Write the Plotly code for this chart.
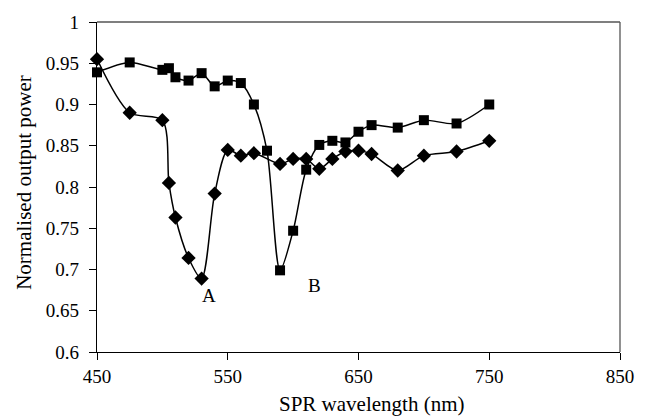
import plotly.graph_objects as go

# Series A (diamonds)
wl_a = [450, 475, 500, 505, 510, 520, 530, 540, 550, 560, 570, 590, 600, 610, 620, 630, 640, 650, 660, 680, 700, 725, 750]
pow_a = [0.955, 0.890, 0.881, 0.805, 0.763, 0.714, 0.689, 0.792, 0.845, 0.838, 0.841, 0.828, 0.834, 0.834, 0.822, 0.834, 0.843, 0.844, 0.840, 0.820, 0.838, 0.843, 0.856]

# Series B (squares)
wl_b = [450, 475, 500, 505, 510, 520, 530, 540, 550, 560, 570, 580, 590, 600, 610, 620, 630, 640, 650, 660, 680, 700, 725, 750]
pow_b = [0.939, 0.951, 0.942, 0.944, 0.933, 0.929, 0.938, 0.922, 0.929, 0.926, 0.900, 0.844, 0.699, 0.747, 0.821, 0.851, 0.856, 0.854, 0.867, 0.875, 0.872, 0.881, 0.877, 0.900]

x_ticks = [450, 550, 650, 750, 850]
y_ticks = [0.6, 0.65, 0.7, 0.75, 0.8, 0.85, 0.9, 0.95, 1.0]
y_tick_text = ["0.6", "0.65", "0.7", "0.75", "0.8", "0.85", "0.9", "0.95", "1"]

curve_labels = [("A", 536, 0.668), ("B", 616, 0.681)]
x_title = "SPR wavelength (nm)"
y_title = "Normalised output power"

FONT = "Liberation Serif"

fig = go.Figure()
fig.add_trace(go.Scatter(
    x=wl_a, y=pow_a, mode="lines+markers",
    line=dict(color="black", width=1.5, shape="spline", smoothing=0.8),
    marker=dict(symbol="diamond", size=11, color="black"),
    showlegend=False, cliponaxis=False))
fig.add_trace(go.Scatter(
    x=wl_b, y=pow_b, mode="lines+markers",
    line=dict(color="black", width=1.5, shape="spline", smoothing=0.8),
    marker=dict(symbol="square", size=10, color="black"),
    showlegend=False, cliponaxis=False))

for t, xv, yv in curve_labels:
    fig.add_annotation(x=xv, y=yv, text=t, showarrow=False,
                       font=dict(family=FONT, size=19, color="black"))

# axis titles
fig.add_annotation(xref="paper", yref="paper", x=0.524, y=-0.159,
                   xanchor="center", yanchor="middle", text=x_title,
                   showarrow=False, font=dict(family=FONT, size=21, color="black"))
fig.add_annotation(xref="paper", yref="paper", x=-0.14, y=0.515,
                   xanchor="center", yanchor="middle", text=y_title, textangle=-90,
                   showarrow=False, font=dict(family=FONT, size=21, color="black"))

# top and right frame lines (grey)
fig.add_shape(type="line", xref="paper", yref="paper", x0=0, x1=1, y0=1, y1=1,
              line=dict(color="#555555", width=1.3))
fig.add_shape(type="line", xref="paper", yref="paper", x0=1, x1=1, y0=0, y1=1,
              line=dict(color="#555555", width=1.3))

fig.update_layout(
    width=646, height=417,
    margin=dict(l=97, r=26, t=18, b=65),
    plot_bgcolor="white", paper_bgcolor="white",
    font=dict(family=FONT, size=19, color="black"),
    xaxis=dict(range=[450, 850], tickvals=x_ticks, ticks="outside", ticklen=7,
               tickcolor="black", showline=True, linecolor="black", linewidth=1.3,
               showgrid=False, zeroline=False, ticklabelstandoff=0),
    yaxis=dict(range=[0.6, 1.0], tickvals=y_ticks, ticktext=y_tick_text,
               ticks="outside", ticklen=7, tickcolor="black",
               showline=True, linecolor="black", linewidth=1.3,
               showgrid=False, zeroline=False, ticklabelstandoff=6),
)

fig.write_html("out.html")
